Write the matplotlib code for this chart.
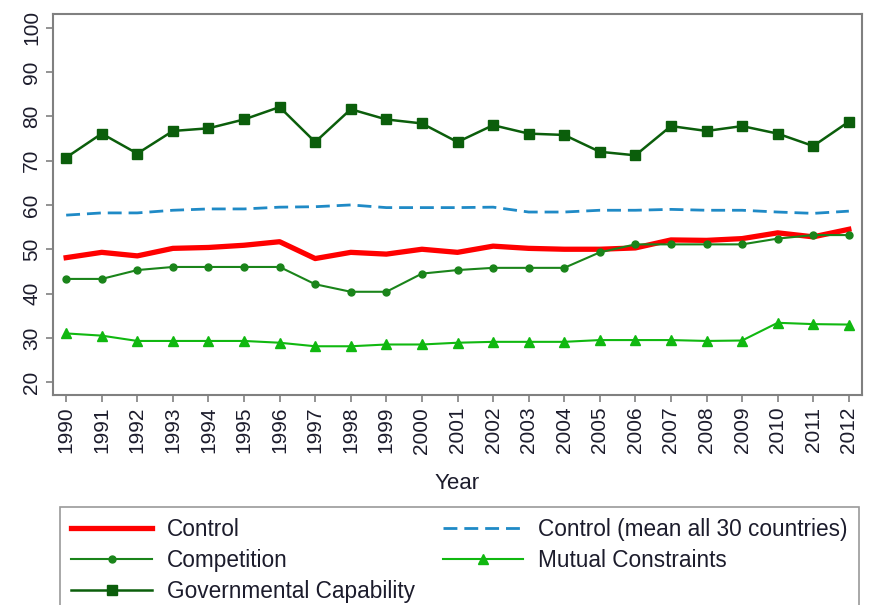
import matplotlib
matplotlib.use("Agg")
import matplotlib.pyplot as plt

plt.rcParams['font.family'] = ['Liberation Sans', 'DejaVu Sans']

# data
years = list(range(1990, 2013))
control = [48.1, 49.3, 48.5, 50.2, 50.4, 50.9, 51.7, 47.9, 49.3, 48.9, 50.0, 49.3,
           50.7, 50.2, 50.0, 50.0, 50.3, 52.1, 52.0, 52.4, 53.7, 52.8, 54.5]
control_mean = [57.7, 58.2, 58.2, 58.8, 59.1, 59.1, 59.5, 59.6, 60.0, 59.4, 59.4, 59.4,
                59.5, 58.4, 58.4, 58.8, 58.8, 59.0, 58.8, 58.8, 58.4, 58.1, 58.6]
competition = [43.3, 43.3, 45.3, 46.0, 46.0, 46.0, 46.0, 42.1, 40.4, 40.4, 44.5, 45.3,
               45.8, 45.8, 45.8, 49.3, 51.1, 51.1, 51.1, 51.1, 52.4, 53.2, 53.2]
mutual = [31.0, 30.5, 29.3, 29.3, 29.3, 29.3, 28.9, 28.1, 28.1, 28.5, 28.5, 28.9,
          29.1, 29.1, 29.1, 29.5, 29.5, 29.5, 29.3, 29.4, 33.4, 33.1, 33.0]
gov_cap = [70.7, 76.1, 71.6, 76.7, 77.3, 79.3, 82.1, 74.2, 81.6, 79.3, 78.4, 74.2,
           78.0, 76.1, 75.8, 72.0, 71.2, 77.8, 76.7, 77.8, 76.1, 73.3, 78.8]
yticks = [20, 30, 40, 50, 60, 70, 80, 90, 100]

txt = '#1c1c2c'
fig = plt.figure(figsize=(8.7, 6.05), dpi=100)
ax = fig.add_axes([53/870, 1-395/605, (862-53)/870, (395-14)/605])

l1, = ax.plot(years, control, color='#ff0000', lw=3.8, label='Control', zorder=3)
l2, = ax.plot(years, control_mean, color='#1f8ac6', lw=2.0, dashes=(5, 2.5),
              label='Control (mean all 30 countries)', zorder=2)
l3, = ax.plot(years, competition, color='#1a841a', lw=1.5, marker='o', ms=5,
              label='Competition', zorder=4)
l4, = ax.plot(years, mutual, color='#10b810', lw=1.5, marker='^', ms=7.5,
              label='Mutual Constraints', zorder=4)
l5, = ax.plot(years, gov_cap, color='#0b5e0b', lw=1.8, marker='s', ms=7,
              label='Governmental Capability', zorder=4)

ax.set_xlim(1989.63, 2012.37)
ax.set_ylim(17.1, 103.1)
ax.set_xticks(years)
ax.set_xticklabels([str(y) for y in years], rotation=90, fontsize=15, color=txt)
ax.set_yticks(yticks)
ax.set_yticklabels([str(v) for v in yticks], rotation=90, va='center', fontsize=15, color=txt)
ax.tick_params(colors='#808080', length=5, width=1.2, labelcolor=txt)
for s in ax.spines.values():
    s.set_color('#808080')
    s.set_linewidth(1.5)
ax.set_xlabel('Year', fontsize=16, color=txt, labelpad=14)

# column-major order so rows read left to right like the original
handles = [l1, l3, l5, l2, l4]
fig.legend(handles, [h.get_label() for h in handles],
           loc='upper left', bbox_to_anchor=(60/870, 1-507/605), ncol=2,
           borderaxespad=0, fontsize=16.3, frameon=True, fancybox=False,
           edgecolor='#808080', handlelength=3.55, handletextpad=0.66,
           columnspacing=1.25, labelspacing=0.34, borderpad=0.5, labelcolor=txt)
fig.legends[0].get_frame().set_linewidth(1.2)

fig.savefig('out.png', dpi=100)
